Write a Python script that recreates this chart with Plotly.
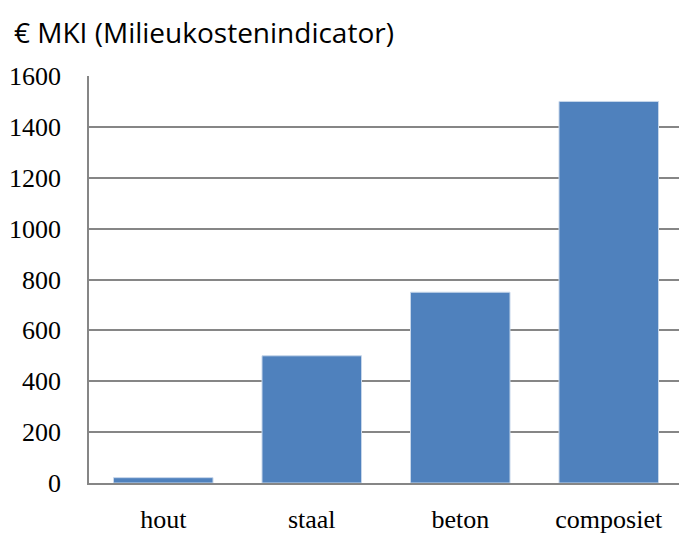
import plotly.graph_objects as go

categories = ["hout", "staal", "beton", "composiet"]
values = [21, 500, 750, 1500]
y_ticks = [0, 200, 400, 600, 800, 1000, 1200, 1400, 1600]

fig = go.Figure(go.Bar(
    x=categories, y=values,
    marker=dict(color="#4F81BD", line=dict(color="#C6D6EA", width=1)),
    width=0.67,
))

fig.update_layout(
    width=679, height=534,
    margin=dict(l=89, r=0, t=76, b=46),
    paper_bgcolor="white", plot_bgcolor="white",
    showlegend=False,
    title=dict(text="€ MKI (Milieukostenindicator)", xref="container", yref="container",
               x=14/679, xanchor="left", y=1 - 33/534, yanchor="middle",
               font=dict(family="Open Sans, sans-serif", size=28, color="black")),
    xaxis=dict(range=[-0.5, 3.473], showgrid=False, showline=True, linecolor="#868686",
               linewidth=1.5, ticks="", ticklabelstandoff=12,
               tickfont=dict(family="Liberation Serif, serif", size=26, color="black")),
    yaxis=dict(range=[0, 1600], tickvals=y_ticks, showgrid=True, gridcolor="#868686",
               gridwidth=1.5, showline=True, linecolor="#868686", linewidth=1.5,
               zeroline=False, ticks="", ticklabelstandoff=21,
               tickfont=dict(family="Liberation Serif, serif", size=26, color="black")),
)

fig.write_html("out.html", config={"displayModeBar": False},
               post_script="document.body.style.margin='0';document.body.style.overflow='hidden';")
